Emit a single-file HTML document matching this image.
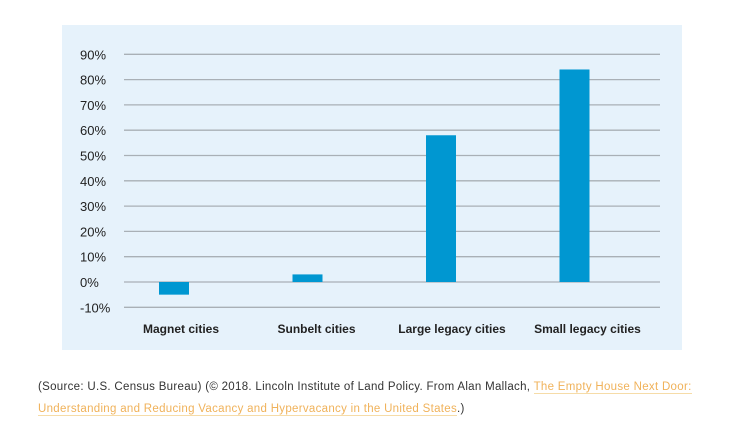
<!DOCTYPE html>
<html><head><meta charset="utf-8"><style>
body{margin:0;background:#fff;width:753px;height:439px;overflow:hidden;font-family:"Liberation Sans",sans-serif}
svg{position:absolute;left:0;top:0}
.cap{position:absolute;left:38px;top:376px;width:680px;font-size:11.5px;line-height:22px;color:#333;letter-spacing:0.3px}
.cap a{color:#f0b25a;text-decoration:none;border-bottom:1px solid #f6dca8}
</style></head><body>
<svg id="chart" width="753" height="439">
<rect x="62" y="25" width="620" height="325" fill="#e6f2fb"/>
<g id="grid"></g><g id="bars"></g><g id="labels"></g>
</svg>
<div class="cap">(Source: U.S. Census Bureau) (© 2018. Lincoln Institute of Land Policy. From Alan Mallach, <a>The Empty House Next Door: Understanding and Reducing Vacancy and Hypervacancy in the United States</a>.)</div>
<script>
const categories=["Magnet cities","Sunbelt cities","Large legacy cities","Small legacy cities"];
const values=[-5,3,58,84];
const ticks=[-10,0,10,20,30,40,50,60,70,80,90];
const tickLabels=["-10%","0%","10%","20%","30%","40%","50%","60%","70%","80%","90%"];
const ns="http://www.w3.org/2000/svg";
const y=v=>282-v*2.53;
const xc=i=>174+i*133.5;
const grid=document.getElementById('grid'),bars=document.getElementById('bars'),labels=document.getElementById('labels');
function mk(tag,attrs,parent,text){const e=document.createElementNS(ns,tag);for(const k in attrs)e.setAttribute(k,attrs[k]);if(text!==undefined)e.textContent=text;parent.appendChild(e);return e;}
ticks.forEach((t,i)=>{
 const l=mk('line',{x1:124,x2:660,y1:y(t),y2:y(t),stroke:'#a9b0b6','stroke-width':1.3},grid);
 
 
 const tx=mk('text',{x:80,y:y(t)+5,'font-size':13,fill:'#222'},labels,tickLabels[i]);
 
 
});
values.forEach((v,i)=>{
 const r=mk('rect',{x:xc(i)-15,width:30,y:Math.min(y(v),y(0)),height:Math.abs(y(v)-y(0)),fill:'#0097d1'},bars);
 
 
 const tx=mk('text',{x:xc(i)+7+i*2,y:333,'font-size':12,'font-weight':'bold',fill:'#222','text-anchor':'middle'},labels,categories[i]);
 
 
});
</script>
</body></html>
